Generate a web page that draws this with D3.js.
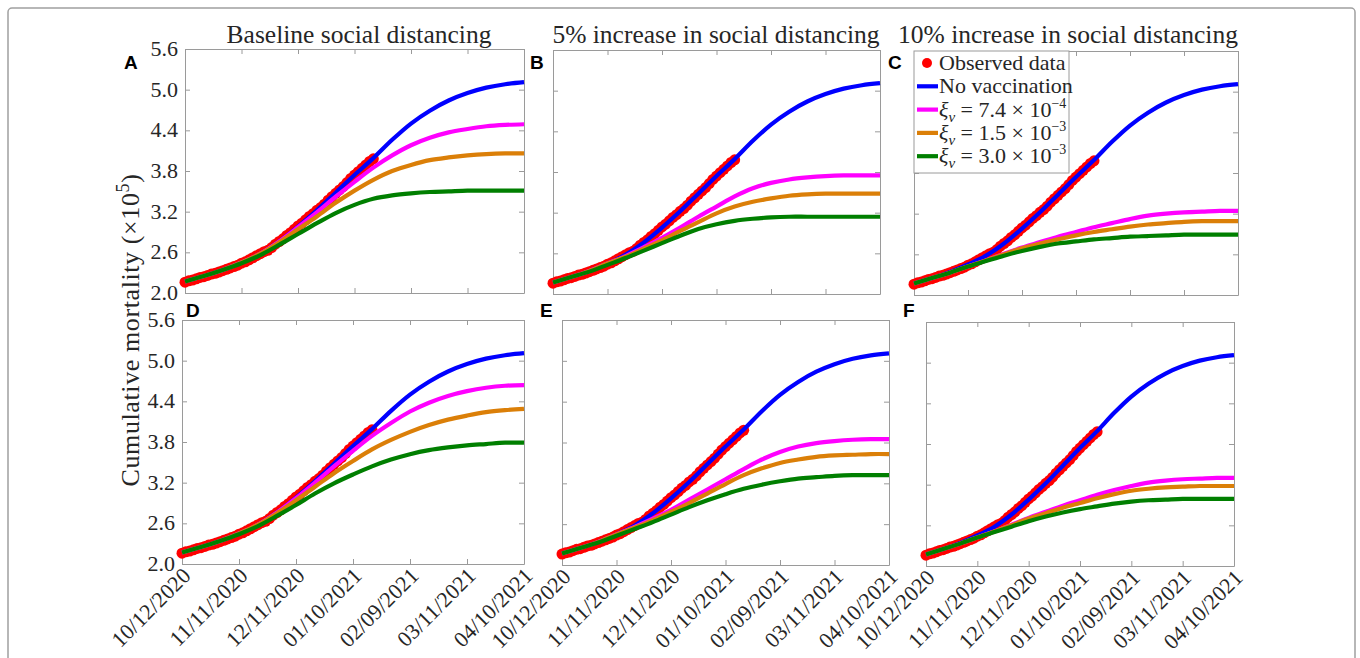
<!DOCTYPE html>
<html>
<head>
<meta charset="utf-8">
<script src="https://cdn.jsdelivr.net/npm/d3@7"></script>
<style>
  body { margin: 0; background: #fff; }
  svg { display: block; font-family: "Liberation Serif", "Times New Roman", serif; }
</style>
</head>
<body>
<script>
// ---- data (values in units of 10^5 deaths) ----
const tickDateStrings = ['2020-10-12', '2020-11-11', '2020-12-11', '2021-01-10', '2021-02-09', '2021-03-11', '2021-04-10'];
const yTicks = [2.0, 2.6, 3.2, 3.8, 4.4, 5.0, 5.6];

// model output, every 10 days from 10/12/2020
const modelDays = [0, 10, 20, 30, 40, 50, 60, 70, 80, 90, 100, 110, 120, 130, 140, 150, 160, 170, 180];
const noVaccination = [2.17, 2.25, 2.34, 2.45, 2.58, 2.76, 2.98, 3.22, 3.48, 3.74, 3.99, 4.26, 4.50, 4.69, 4.84, 4.95, 5.03, 5.08, 5.11];

// baseline social distancing (A) / (D)
const magentaA = [2.17, 2.25, 2.34, 2.45, 2.58, 2.76, 2.97, 3.19, 3.42, 3.64, 3.85, 4.03, 4.18, 4.29, 4.37, 4.42, 4.46, 4.48, 4.49];
const orangeA  = [2.17, 2.25, 2.34, 2.45, 2.58, 2.75, 2.94, 3.13, 3.33, 3.51, 3.67, 3.80, 3.89, 3.96, 4.00, 4.03, 4.05, 4.06, 4.06];
const greenA   = [2.17, 2.25, 2.34, 2.44, 2.56, 2.71, 2.87, 3.03, 3.18, 3.30, 3.39, 3.44, 3.47, 3.49, 3.50, 3.51, 3.51, 3.51, 3.51];
const magentaD = [2.17, 2.25, 2.34, 2.45, 2.58, 2.76, 2.97, 3.20, 3.44, 3.67, 3.89, 4.08, 4.25, 4.38, 4.48, 4.55, 4.60, 4.63, 4.64];
const orangeD  = [2.17, 2.25, 2.34, 2.45, 2.58, 2.75, 2.94, 3.14, 3.34, 3.52, 3.69, 3.83, 3.95, 4.05, 4.13, 4.19, 4.24, 4.27, 4.29];
const greenD   = [2.17, 2.25, 2.34, 2.44, 2.56, 2.71, 2.87, 3.04, 3.19, 3.32, 3.44, 3.54, 3.62, 3.68, 3.72, 3.75, 3.77, 3.79, 3.79];

// 5% increase (B) / (E)
const magentaB = [2.17, 2.25, 2.34, 2.45, 2.56, 2.69, 2.83, 2.98, 3.14, 3.29, 3.44, 3.56, 3.64, 3.69, 3.72, 3.74, 3.75, 3.75, 3.75];
const orangeB  = [2.17, 2.25, 2.34, 2.45, 2.55, 2.67, 2.79, 2.93, 3.06, 3.19, 3.29, 3.36, 3.41, 3.45, 3.47, 3.48, 3.48, 3.48, 3.48];
const greenB   = [2.17, 2.25, 2.33, 2.43, 2.53, 2.64, 2.75, 2.86, 2.96, 3.03, 3.08, 3.11, 3.13, 3.14, 3.14, 3.14, 3.14, 3.14, 3.14];
const magentaE = [2.17, 2.25, 2.34, 2.45, 2.56, 2.68, 2.81, 2.96, 3.11, 3.26, 3.41, 3.55, 3.66, 3.74, 3.79, 3.82, 3.84, 3.85, 3.85];
const orangeE  = [2.17, 2.25, 2.34, 2.45, 2.55, 2.66, 2.78, 2.91, 3.05, 3.19, 3.32, 3.42, 3.50, 3.55, 3.59, 3.61, 3.62, 3.63, 3.63];
const greenE   = [2.17, 2.25, 2.33, 2.43, 2.53, 2.63, 2.74, 2.85, 2.95, 3.04, 3.12, 3.18, 3.23, 3.27, 3.29, 3.31, 3.32, 3.32, 3.32];

// 10% increase (C) / (F)
const magentaC = [2.17, 2.25, 2.33, 2.42, 2.51, 2.61, 2.70, 2.78, 2.86, 2.93, 3.00, 3.06, 3.12, 3.17, 3.20, 3.22, 3.23, 3.24, 3.24];
const orangeC  = [2.17, 2.25, 2.33, 2.42, 2.51, 2.60, 2.69, 2.76, 2.82, 2.88, 2.93, 2.97, 3.01, 3.04, 3.06, 3.08, 3.09, 3.09, 3.09];
const greenC   = [2.17, 2.25, 2.33, 2.42, 2.50, 2.58, 2.65, 2.71, 2.76, 2.79, 2.82, 2.84, 2.86, 2.87, 2.88, 2.89, 2.89, 2.89, 2.89];
const magentaF = [2.17, 2.25, 2.33, 2.42, 2.51, 2.61, 2.71, 2.80, 2.89, 2.97, 3.05, 3.12, 3.18, 3.23, 3.26, 3.28, 3.29, 3.30, 3.30];
const orangeF  = [2.17, 2.25, 2.33, 2.42, 2.51, 2.60, 2.70, 2.78, 2.86, 2.93, 3.00, 3.06, 3.11, 3.14, 3.16, 3.17, 3.18, 3.18, 3.18];
const greenF   = [2.17, 2.25, 2.33, 2.42, 2.50, 2.58, 2.66, 2.73, 2.79, 2.84, 2.88, 2.92, 2.95, 2.97, 2.98, 2.99, 2.99, 2.99, 2.99];

// observed cumulative mortality, every 2 days
const observedDays = [0, 2, 4, 6, 8, 10, 12, 14, 16, 18, 20, 22, 24, 26, 28, 30, 32, 34, 36, 38, 40, 42, 44, 46, 48, 50,
                      52, 54, 56, 58, 60, 62, 64, 66, 68, 70, 72, 74, 76, 78, 80, 82, 84, 86, 88, 90, 92, 94, 96, 98, 100];
const observed = [2.16, 2.18, 2.19, 2.21, 2.23, 2.24, 2.26, 2.28, 2.29, 2.31, 2.33, 2.35, 2.37, 2.39, 2.41, 2.44, 2.46, 2.49, 2.52, 2.55,
                  2.58, 2.61, 2.63, 2.67, 2.72, 2.76, 2.80, 2.85, 2.89, 2.94, 2.99, 3.03, 3.08, 3.13, 3.17, 3.22, 3.26, 3.31, 3.37, 3.42,
                  3.47, 3.52, 3.57, 3.63, 3.69, 3.74, 3.79, 3.84, 3.89, 3.94, 3.98];

const seriesColors = { blue: '#0000ff', magenta: '#ff00ff', orange: '#db7f08', green: '#007f00', red: '#ff0000' };

const legendItems = [
    { kind: 'dot', color: seriesColors.red, label: 'Observed data' },
    { kind: 'line', color: seriesColors.blue, label: 'No vaccination' },
    { kind: 'line', color: seriesColors.magenta, xi: '7.4', exp: '−4' },
    { kind: 'line', color: seriesColors.orange, xi: '1.5', exp: '−3' },
    { kind: 'line', color: seriesColors.green, xi: '3.0', exp: '−3' }
];

// ---- layout ----
const W = 1360, H = 658;
const panels = [
    { letter: 'A', x0: 185, x1: 524, y0: 49, y1: 293, lx: 124, ly: 69, title: 'Baseline social distancing', tx: 359,
      mag: magentaA, ora: orangeA, grn: greenA, yLab: true, xLab: false },
    { letter: 'B', x0: 553, x1: 880, y0: 50, y1: 294, lx: 530, ly: 69, title: '5% increase in social distancing', tx: 716,
      mag: magentaB, ora: orangeB, grn: greenB, yLab: false, xLab: false },
    { letter: 'C', x0: 914, x1: 1238, y0: 51, y1: 295, lx: 888, ly: 69, title: '10% increase in social distancing', tx: 1068,
      mag: magentaC, ora: orangeC, grn: greenC, yLab: false, xLab: false, legend: true },
    { letter: 'D', x0: 182, x1: 524, y0: 320, y1: 564, lx: 186, ly: 317,
      mag: magentaD, ora: orangeD, grn: greenD, yLab: true, xLab: true },
    { letter: 'E', x0: 562, x1: 889, y0: 320, y1: 565, lx: 540, ly: 317,
      mag: magentaE, ora: orangeE, grn: greenE, yLab: false, xLab: true },
    { letter: 'F', x0: 926, x1: 1234, y0: 322, y1: 566, lx: 903, ly: 317,
      mag: magentaF, ora: orangeF, grn: greenF, yLab: false, xLab: true }
];

const axisColor = '#9a9a9a';
const textColor = '#262626';

const parseDate = d3.utcParse('%Y-%m-%d');
const fmtDate = d3.utcFormat('%m/%d/%Y');
const tickDates = tickDateStrings.map(parseDate);
const dayToDate = d => d3.utcDay.offset(tickDates[0], d);

const svg = d3.select('body').append('svg')
    .attr('width', W)
    .attr('height', H);

// outer frame
svg.append('rect')
    .attr('x', 8).attr('y', 8)
    .attr('width', 1347).attr('height', 700)
    .attr('rx', 4)
    .attr('fill', 'none')
    .attr('stroke', '#a0a0a0')
    .attr('stroke-width', 1.5);

function drawPanel(p) {
    const x = d3.scaleUtc().domain([tickDates[0], tickDates[tickDates.length - 1]]).range([p.x0, p.x1]);
    const y = d3.scaleLinear().domain([2.0, 5.6]).range([p.y1, p.y0]);
    const g = svg.append('g');

    // box axes with inward ticks on all four sides
    const styleAxis = sel => {
        sel.selectAll('path.domain').attr('stroke', axisColor);
        sel.selectAll('.tick line').attr('stroke', axisColor);
        sel.selectAll('.tick text').remove();
    };
    g.append('g').attr('transform', `translate(0,${p.y1})`)
        .call(d3.axisBottom(x).tickValues(tickDates).tickSize(-5).tickSizeOuter(0)).call(styleAxis);
    g.append('g').attr('transform', `translate(0,${p.y0})`)
        .call(d3.axisTop(x).tickValues(tickDates).tickSize(-5).tickSizeOuter(0)).call(styleAxis);
    g.append('g').attr('transform', `translate(${p.x0},0)`)
        .call(d3.axisLeft(y).tickValues(yTicks).tickSize(-5).tickSizeOuter(0)).call(styleAxis);
    g.append('g').attr('transform', `translate(${p.x1},0)`)
        .call(d3.axisRight(y).tickValues(yTicks).tickSize(-5).tickSizeOuter(0)).call(styleAxis);

    if (p.yLab) {
        g.selectAll('text.ytick').data(yTicks).enter().append('text')
            .attr('class', 'ytick')
            .attr('x', p.x0 - 7)
            .attr('y', d => y(d) + 7)
            .attr('text-anchor', 'end')
            .attr('font-size', 22)
            .attr('fill', textColor)
            .text(d3.format('.1f'));
    }
    if (p.xLab) {
        g.selectAll('text.xtick').data(tickDates).enter().append('text')
            .attr('class', 'xtick')
            .attr('transform', d => `translate(${x(d) + 10},${p.y1 + 13}) rotate(-45)`)
            .attr('text-anchor', 'end')
            .attr('font-size', 22)
            .attr('letter-spacing', 0.1)
            .attr('fill', textColor)
            .text(fmtDate);
    }

    // observed data
    g.append('g').selectAll('circle').data(observedDays).enter().append('circle')
        .attr('cx', d => x(dayToDate(d)))
        .attr('cy', (d, i) => y(observed[i]))
        .attr('r', 5.5)
        .attr('fill', seriesColors.red);

    const line = d3.line()
        .x((d, i) => x(dayToDate(modelDays[i])))
        .y(d => y(d))
        .curve(d3.curveCatmullRom.alpha(0.5));

    [[noVaccination, seriesColors.blue], [p.mag, seriesColors.magenta], [p.ora, seriesColors.orange], [p.grn, seriesColors.green]]
        .forEach(([vals, color]) => {
            g.append('path')
                .attr('d', line(vals))
                .attr('fill', 'none')
                .attr('stroke', color)
                .attr('stroke-width', 4.2);
        });

    if (p.title) {
        svg.append('text')
            .attr('x', p.tx).attr('y', 43)
            .attr('text-anchor', 'middle')
            .attr('font-size', 25.5)
            .attr('fill', textColor)
            .text(p.title);
    }

    svg.append('text')
        .attr('x', p.lx).attr('y', p.ly)
        .attr('font-family', '"Liberation Sans", Arial, sans-serif')
        .attr('font-weight', 'bold')
        .attr('font-size', 19)
        .attr('fill', '#000')
        .text(p.letter);

    if (p.legend) drawLegend(p);
}

function drawLegend(p) {
    const lg = svg.append('g');
    lg.append('rect')
        .attr('x', p.x0).attr('y', p.y0)
        .attr('width', 155).attr('height', 122)
        .attr('fill', '#fff')
        .attr('stroke', axisColor);
    const rowY = i => p.y0 + 12 + i * 23.3;
    legendItems.forEach((it, i) => {
        const cy = rowY(i);
        if (it.kind === 'dot') {
            lg.append('circle').attr('cx', p.x0 + 13).attr('cy', cy).attr('r', 5).attr('fill', it.color);
        } else {
            lg.append('line')
                .attr('x1', p.x0 + 3).attr('x2', p.x0 + 24)
                .attr('y1', cy).attr('y2', cy)
                .attr('stroke', it.color).attr('stroke-width', 4.2);
        }
        const t = lg.append('text')
            .attr('x', p.x0 + 25).attr('y', cy + 7)
            .attr('font-size', 22)
            .attr('fill', textColor);
        if (it.label) {
            t.text(it.label);
        } else {
            t.append('tspan').attr('font-style', 'italic').text('ξ');
            t.append('tspan').attr('font-style', 'italic').attr('font-size', 15).attr('dy', 5).text('v');
            t.append('tspan').attr('dy', -5).text(` = ${it.xi} × 10`);
            t.append('tspan').attr('font-size', 14).attr('dy', -9).text(it.exp);
        }
    });
}

panels.forEach(drawPanel);

// shared y-axis label
const yl = svg.append('text')
    .attr('transform', 'translate(139,330) rotate(-90)')
    .attr('text-anchor', 'middle')
    .attr('font-size', 26)
    .attr('letter-spacing', 0.6)
    .attr('fill', textColor);
yl.append('tspan').text('Cumulative mortality (×10');
yl.append('tspan').attr('font-size', 18).attr('dy', -10).text('5');
yl.append('tspan').attr('dy', 10).text(')');
</script>
</body>
</html>
